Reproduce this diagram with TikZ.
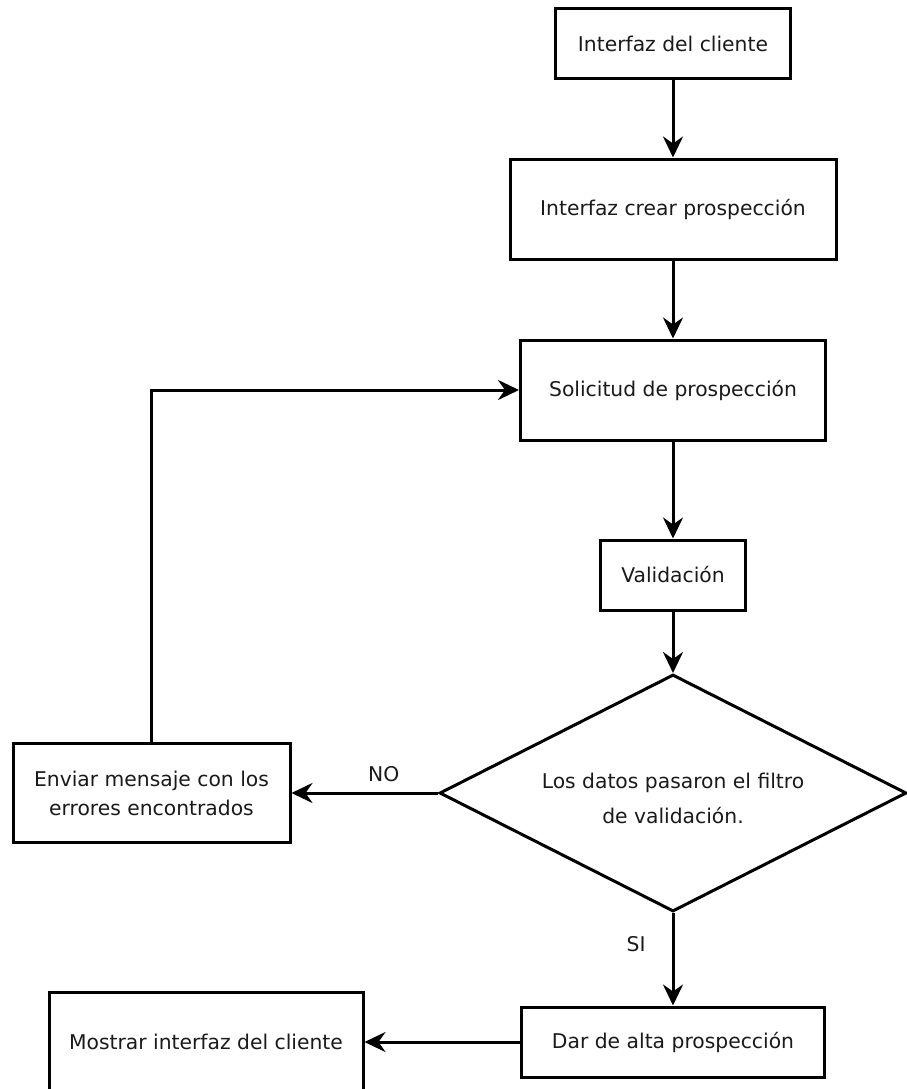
\documentclass[tikz,border=0pt]{standalone}
\usepackage{fontspec}
\setmainfont{DejaVu Sans}
\usetikzlibrary{shapes.geometric,arrows.meta}
\definecolor{ink}{HTML}{1A1A1A}
\begin{document}
\begin{tikzpicture}[x=1pt,y=-1pt,
  font=\fontsize{20.3pt}{29pt}\selectfont,
  box/.style={draw=black, line width=3pt, inner sep=0pt, align=center, text=ink, fill=white},
  dec/.style={diamond, aspect=2, draw=black, line width=3pt, inner sep=0pt, align=center, text=ink, minimum width=467pt, minimum height=237pt},
  arr/.style={line width=3pt, -{Stealth[length=21pt,width=20pt,inset=7pt]}},
  lbl/.style={text=ink, inner sep=0pt}]
\useasboundingbox (0,0) rectangle (907,1089);
\node[box, minimum width=235pt, minimum height=70pt] (b1) at (673,44) {Interfaz del cliente};
\node[box, minimum width=326pt, minimum height=100pt] (b2) at (673,209) {Interfaz crear prospección};
\node[box, minimum width=305pt, minimum height=100pt] (b3) at (673,390) {Solicitud de prospección};
\node[box, minimum width=145pt, minimum height=70pt] (b4) at (673,575) {Validación};
\node[dec, label={[lbl, align=center, yshift=-5pt]center:{Los datos pasaron el filtro\\[6pt]de validación.}}] (d) at (673,793) {};
\node[box, minimum width=277pt, minimum height=99pt] (env) at (151.5,793) {Enviar mensaje con los\\errores encontrados};
\node[box, minimum width=303pt, minimum height=70pt] (dar) at (673,1042) {Dar de alta prospección};
\node[box, minimum width=314pt, minimum height=100pt] (mos) at (206,1042) {Mostrar interfaz del cliente};
\draw[arr] (b1) -- (b2);
\draw[arr] (b2) -- (b3);
\draw[arr] (b3) -- (b4);
\draw[arr] (b4) -- (d);
\draw[arr] (d.west) -- node[lbl, pos=0.37, above=10pt] {NO} (env.east);
\draw[arr] (env.north) |- (b3.west);
\draw[arr] (d.south) -- node[lbl, pos=0.34, left=26pt] {SI} (dar.north);
\draw[arr] (dar.west) -- (mos.east);
\end{tikzpicture}
\end{document}
